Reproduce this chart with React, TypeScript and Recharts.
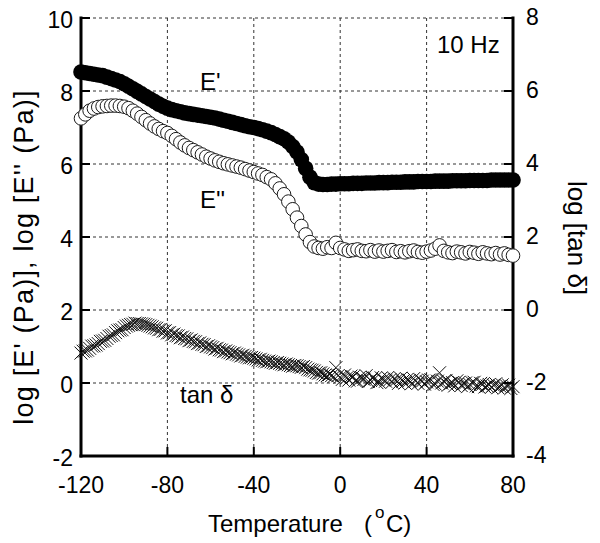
import React from 'react';
import { ComposedChart, Line, XAxis, YAxis, CartesianGrid } from 'recharts';

// Temperature sweep (°C), 2-degree steps
const temperatures = [
  -120, -118, -116, -114, -112, -110, -108, -106, -104, -102,
  -100, -98, -96, -94, -92, -90, -88, -86, -84, -82,
  -80, -78, -76, -74, -72, -70, -68, -66, -64, -62,
  -60, -58, -56, -54, -52, -50, -48, -46, -44, -42,
  -40, -38, -36, -34, -32, -30, -28, -26, -24, -22,
  -20, -18, -16, -14, -12, -10, -8, -6, -4, -2,
  0, 2, 4, 6, 8, 10, 12, 14, 16, 18,
  20, 22, 24, 26, 28, 30, 32, 34, 36, 38,
  40, 42, 44, 46, 48, 50, 52, 54, 56, 58,
  60, 62, 64, 66, 68, 70, 72, 74, 76, 78,
  80,
];

// Intermediate temperatures where tan δ was also sampled
const oddTemperatures = [
  -119, -117, -115, -113, -111, -109, -107, -105, -103, -101,
  -99, -97, -95, -93, -91, -89, -87, -85, -83, -81,
  -79, -77, -75, -73, -71, -69, -67, -65, -63, -61,
  -59, -57, -55, -53, -51, -49, -47, -45, -43, -41,
  -39, -37, -35, -33, -31, -29, -27, -25, -23, -21,
  -19, -17, -15, -13, -11, -9, -7, -5, -3, -1,
  1, 3, 5, 7, 9, 11, 13, 15, 17, 19,
  21, 23, 25, 27, 29, 31, 33, 35, 37, 39,
  41, 43, 45, 47, 49, 51, 53, 55, 57, 59,
  61, 63, 65, 67, 69, 71, 73, 75, 77, 79,
];

// log E' (Pa) — storage modulus
const logStorage = [
  8.52, 8.50, 8.48, 8.46, 8.44, 8.42, 8.38, 8.34, 8.30, 8.26,
  8.20, 8.13, 8.06, 7.99, 7.92, 7.85, 7.78, 7.71, 7.64, 7.58,
  7.53, 7.49, 7.46, 7.43, 7.40, 7.38, 7.36, 7.34, 7.32, 7.30,
  7.28, 7.26, 7.23, 7.20, 7.17, 7.14, 7.11, 7.08, 7.05, 7.02,
  7.00, 6.97, 6.94, 6.90, 6.86, 6.81, 6.75, 6.69, 6.60, 6.48,
  6.33, 6.12, 5.88, 5.64, 5.49, 5.45, 5.44, 5.44, 5.45, 5.45,
  5.46, 5.46, 5.46, 5.47, 5.47, 5.47, 5.48, 5.48, 5.48, 5.49,
  5.49, 5.49, 5.50, 5.50, 5.50, 5.51, 5.51, 5.51, 5.52, 5.52,
  5.52, 5.52, 5.53, 5.53, 5.53, 5.53, 5.54, 5.54, 5.54, 5.54,
  5.55, 5.55, 5.55, 5.55, 5.55, 5.56, 5.56, 5.56, 5.56, 5.56,
  5.56,
];

// log E'' (Pa) — loss modulus
const logLoss = [
  7.25, 7.36, 7.46, 7.52, 7.56, 7.58, 7.59, 7.60, 7.60, 7.59,
  7.57, 7.53, 7.46, 7.38, 7.29, 7.20, 7.11, 7.03, 6.96, 6.90,
  6.85, 6.77, 6.68, 6.59, 6.51, 6.44, 6.38, 6.32, 6.26, 6.20,
  6.15, 6.10, 6.06, 6.02, 5.99, 5.96, 5.93, 5.90, 5.86, 5.82,
  5.78, 5.74, 5.70, 5.64, 5.58, 5.47, 5.33, 5.17, 4.97, 4.76,
  4.53, 4.30, 4.07, 3.86, 3.74, 3.70, 3.68, 3.72, 3.70, 3.84,
  3.70, 3.66, 3.62, 3.64, 3.66, 3.62, 3.61, 3.64, 3.60, 3.63,
  3.60, 3.62, 3.64, 3.59, 3.61, 3.58, 3.61, 3.63, 3.59, 3.57,
  3.60, 3.63, 3.68, 3.77, 3.62, 3.58, 3.56, 3.60, 3.58, 3.55,
  3.59, 3.57, 3.54, 3.58, 3.55, 3.53, 3.56, 3.52, 3.55, 3.51,
  3.49,
];

// log tan δ at the 2-degree temperatures (right-hand axis)
const logTanDelta = [
  -1.18, -1.12, -1.05, -0.98, -0.92, -0.85, -0.78, -0.70, -0.62, -0.55,
  -0.48, -0.42, -0.39, -0.37, -0.38, -0.40, -0.44, -0.49, -0.54, -0.58,
  -0.63, -0.68, -0.70, -0.76, -0.78, -0.84, -0.86, -0.92, -0.94, -1.00,
  -1.01, -1.07, -1.09, -1.14, -1.15, -1.20, -1.21, -1.26, -1.27, -1.31,
  -1.32, -1.37, -1.38, -1.42, -1.42, -1.46, -1.46, -1.50, -1.50, -1.54,
  -1.53, -1.57, -1.58, -1.64, -1.67, -1.73, -1.75, -1.80, -1.80, -1.58,
  -1.84, -1.78, -1.92, -1.83, -1.95, -1.86, -1.80, -1.93, -1.88, -1.97,
  -1.90, -1.85, -1.98, -1.92, -1.87, -2.00, -1.93, -1.88, -2.01, -1.95,
  -1.97, -1.91, -2.03, -1.72, -1.96, -2.06, -1.99, -1.94, -2.07, -2.00,
  -2.04, -1.98, -2.10, -2.03, -2.08, -2.12, -2.02, -2.09, -2.14, -2.06,
  -2.10,
];

// log tan δ at the intermediate temperatures
const logTanDeltaOdd = [
  -1.13, -1.10, -0.99, -0.96, -0.86, -0.83, -0.72, -0.68, -0.57, -0.54,
  -0.44, -0.40, -0.36, -0.37, -0.39, -0.42, -0.46, -0.50, -0.53, -0.57,
  -0.62, -0.66, -0.71, -0.74, -0.79, -0.82, -0.87, -0.90, -0.95, -0.98,
  -1.03, -1.05, -1.10, -1.12, -1.17, -1.18, -1.23, -1.24, -1.29, -1.30,
  -1.34, -1.35, -1.40, -1.40, -1.44, -1.44, -1.48, -1.48, -1.52, -1.52,
  -1.55, -1.55, -1.62, -1.65, -1.71, -1.72, -1.78, -1.77, -1.83, -1.80,
  -1.90, -1.86, -1.81, -1.94, -1.84, -1.90, -1.96, -1.85, -1.99, -1.86,
  -1.95, -1.91, -1.88, -2.01, -1.95, -1.90, -2.02, -1.94, -1.91, -2.03,
  -1.92, -2.04, -1.95, -2.00, -1.93, -2.01, -2.08, -1.98, -2.02, -2.10,
  -1.99, -2.08, -2.01, -2.11, -2.04, -2.06, -2.13, -2.05, -2.08, -2.15,
];

const xTicks = [-120, -80, -40, 0, 40, 80];
const leftTicks = [-2, 0, 2, 4, 6, 8, 10];
const rightTicks = [-4, -2, 0, 2, 4, 6, 8];

const rows = temperatures.map((t, i) => ({
  t,
  ep: logStorage[i],
  epp: logLoss[i],
}));

const tanRows = [
  ...temperatures.map((t, i) => ({ t, tan: logTanDelta[i] })),
  ...oddTemperatures.map((t, i) => ({ t, tan: logTanDeltaOdd[i] })),
].sort((a, b) => a.t - b.t);

const FONT = '"Liberation Sans", Arial, Helvetica, sans-serif';
const W = 600;
const H = 543;
const TICK_LEN = 9;
const TICK_FONT = 23;
const CROSS = 6.5;

const BottomTick = (p: any) => (
  <g>
    <line x1={p.x} x2={p.x} y1={p.y} y2={p.y - TICK_LEN} stroke="#000" strokeWidth={2} />
    <text x={p.x} y={p.y + 37} textAnchor="middle" fontSize={TICK_FONT} fontFamily={FONT} fill="#000">
      {p.payload.value}
    </text>
  </g>
);

const TopTick = (p: any) => (
  <line x1={p.x} x2={p.x} y1={p.y} y2={p.y + TICK_LEN} stroke="#000" strokeWidth={2} />
);

const LeftTick = (p: any) => (
  <g>
    <line x1={p.x} x2={p.x + TICK_LEN} y1={p.y} y2={p.y} stroke="#000" strokeWidth={2} />
    <text x={p.x - 8} y={p.y + 10} textAnchor="end" fontSize={TICK_FONT} fontFamily={FONT} fill="#000">
      {p.payload.value}
    </text>
  </g>
);

const RightTick = (p: any) => (
  <g>
    <line x1={p.x} x2={p.x - TICK_LEN} y1={p.y} y2={p.y} stroke="#000" strokeWidth={2} />
    <text x={p.x + 13} y={p.y + 7} textAnchor="start" fontSize={TICK_FONT} fontFamily={FONT} fill="#000">
      {p.payload.value}
    </text>
  </g>
);

const StorageDot = (p: any) => (
  <circle key={`ep-${p.index}`} cx={p.cx} cy={p.cy} r={7.8} fill="#000" />
);

const LossDot = (p: any) => (
  <circle key={`epp-${p.index}`} cx={p.cx} cy={p.cy} r={6.8} fill="#fff" stroke="#1a1a1a" strokeWidth={1} />
);

const CrossDot = (p: any) => (
  <path
    key={`tan-${p.index}`}
    d={`M${p.cx - CROSS},${p.cy - CROSS}L${p.cx + CROSS},${p.cy + CROSS}M${p.cx - CROSS},${p.cy + CROSS}L${p.cx + CROSS},${p.cy - CROSS}`}
    stroke="#111"
    strokeWidth={1}
    fill="none"
  />
);

const frameLine = { stroke: '#000', strokeWidth: 3, strokeLinecap: 'square' as const };

export default function App() {
  return (
    <div style={{ position: 'absolute', left: 0, top: 0, width: W, height: H, background: '#fff' }}>
      <ComposedChart width={W} height={H} data={rows} margin={{ top: 18, right: 0, bottom: 0, left: 0 }}>
        <CartesianGrid stroke="#333" strokeWidth={1} strokeDasharray="3 3" />
        <XAxis
          dataKey="t"
          type="number"
          domain={[-120, 80]}
          ticks={xTicks}
          height={87}
          axisLine={frameLine}
          tickLine={false}
          tickSize={0}
          tickMargin={0}
          tick={BottomTick}
          interval={0}
        />
        <XAxis
          xAxisId="top"
          orientation="top"
          type="number"
          domain={[-120, 80]}
          ticks={xTicks}
          height={0}
          axisLine={frameLine}
          tickLine={false}
          tickSize={0}
          tickMargin={0}
          tick={TopTick}
          interval={0}
        />
        <YAxis
          type="number"
          domain={[-2, 10]}
          ticks={leftTicks}
          width={81}
          axisLine={frameLine}
          tickLine={false}
          tickSize={0}
          tickMargin={0}
          tick={LeftTick}
          interval={0}
        />
        <YAxis
          yAxisId="right"
          orientation="right"
          type="number"
          domain={[-4, 8]}
          ticks={rightTicks}
          width={87}
          axisLine={frameLine}
          tickLine={false}
          tickSize={0}
          tickMargin={0}
          tick={RightTick}
          interval={0}
        />
        <Line
          yAxisId="right"
          data={tanRows}
          dataKey="tan"
          stroke="none"
          dot={CrossDot}
          activeDot={false}
          isAnimationActive={false}
        />
        <Line dataKey="epp" stroke="none" dot={LossDot} activeDot={false} isAnimationActive={false} />
        <Line dataKey="ep" stroke="none" dot={StorageDot} activeDot={false} isAnimationActive={false} />
      </ComposedChart>
      <svg
        width={W}
        height={H}
        style={{ position: 'absolute', left: 0, top: 0, pointerEvents: 'none' }}
        fontFamily={FONT}
        fill="#000"
      >
        <text x={200} y={90} fontSize={24}>E'</text>
        <text x={200} y={208} fontSize={24}>E''</text>
        <text x={180} y={403} fontSize={24}>tan δ</text>
        <text x={437} y={53} fontSize={24}>10 Hz</text>
        <text x={208} y={532} fontSize={24}>Temperature</text>
        <text x={364} y={532} fontSize={24}>(</text>
        <text x={375} y={518} fontSize={17}>o</text>
        <text x={386} y={532} fontSize={24}>C)</text>
        <text
          x={33}
          y={257}
          fontSize={27}
          letterSpacing={1.2}
          textAnchor="middle"
          transform="rotate(-90 33 257)"
        >
          log [E' (Pa)], log [E'' (Pa)]
        </text>
        <text x={568} y={238} fontSize={26} textAnchor="middle" transform="rotate(90 568 238)">
          log [tan δ]
        </text>
      </svg>
    </div>
  );
}
